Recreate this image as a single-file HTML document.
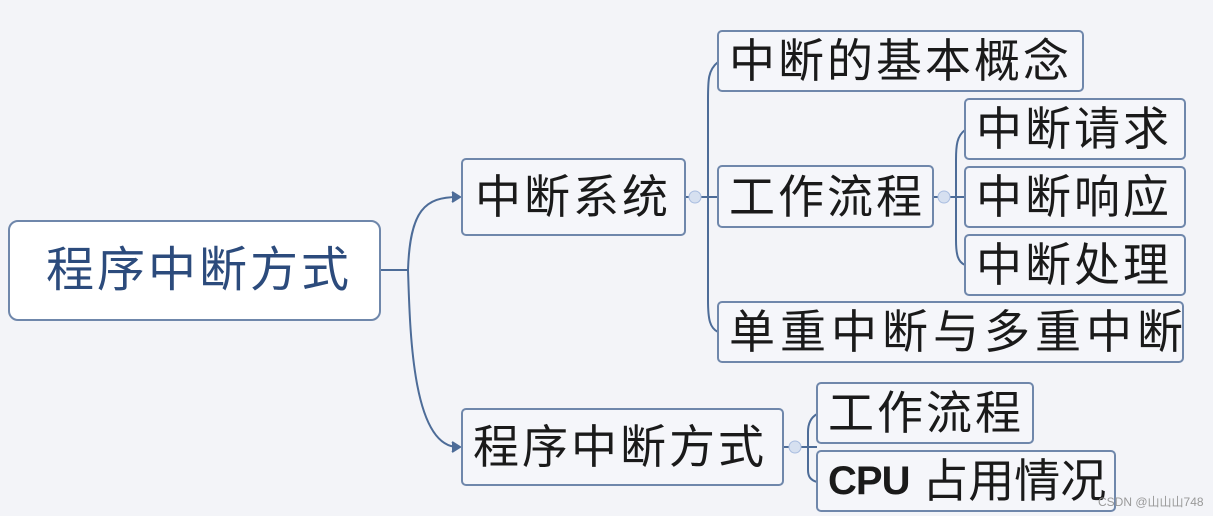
<!DOCTYPE html>
<html><head><meta charset="utf-8"><style>
body{margin:0;width:1213px;height:516px;background:#f3f4f8;position:relative;overflow:hidden;font-family:"Liberation Sans","Noto Sans CJK SC",sans-serif;}
.b{position:absolute;box-sizing:border-box;border:2px solid #6f87ab;border-radius:5px;background:#f5f6fa;color:#1a1a1a;font-size:46px;line-height:1;display:flex;align-items:center;padding-left:10px;white-space:nowrap;letter-spacing:3px}
svg{position:absolute;left:0;top:0}
</style></head><body>
<svg width="1213" height="516" fill="none" stroke="#4d6c98" stroke-width="2">
<path d="M380 270 H408 M408 270 C410 210 425 197 458 197 M408 270 C410 330 412 447 458 447"/>
<path d="M452 192 L460 197 L452 202" fill="#4d6c98"/>
<path d="M452 442 L460 447 L452 452" fill="#4d6c98"/>
<path d="M685 197 H718 M718 62 C708 70 708 80 708 100 V300 C708 320 710 328 718 332"/>
<path d="M933 197 H965 M965 130 C957 136 956 145 956 160 V240 C956 255 958 262 965 265"/>
<path d="M783 447 H817 M817 414 C810 418 808 425 808 432 V470 C808 476 810 480 817 482"/>
<circle cx="695" cy="197" r="6" fill="#d6e0f0" stroke="#a9bde0" stroke-width="1"/>
<circle cx="944" cy="197" r="6" fill="#d6e0f0" stroke="#a9bde0" stroke-width="1"/>
<circle cx="795" cy="447" r="6" fill="#d6e0f0" stroke="#a9bde0" stroke-width="1"/>
</svg>
<div class="b" style="left:8px;top:220px;width:373px;height:101px;background:#fff;border-radius:10px;color:#2c4b7c;padding-left:36px;font-size:48px">程序中断方式</div>
<div class="b" style="left:461px;top:158px;width:225px;height:78px;padding-left:12px">中断系统</div>
<div class="b" style="left:461px;top:408px;width:323px;height:78px">程序中断方式</div>
<div class="b" style="left:717px;top:30px;width:367px;height:62px">中断的基本概念</div>
<div class="b" style="left:717px;top:165px;width:217px;height:63px">工作流程</div>
<div class="b" style="left:964px;top:98px;width:222px;height:62px">中断请求</div>
<div class="b" style="left:964px;top:166px;width:222px;height:62px">中断响应</div>
<div class="b" style="left:964px;top:234px;width:222px;height:62px">中断处理</div>
<div class="b" style="left:717px;top:301px;width:467px;height:62px;letter-spacing:5px">单重中断与多重中断</div>
<div class="b" style="left:816px;top:382px;width:218px;height:62px">工作流程</div>
<div class="b" style="left:816px;top:450px;width:300px;height:62px;letter-spacing:0"><b style="font-size:40px;letter-spacing:-1px">CPU</b>&nbsp;占用情况</div>
<div style="position:absolute;left:1098px;top:493px;font-size:12px;color:#999">CSDN @山山山748</div>
</body></html>
